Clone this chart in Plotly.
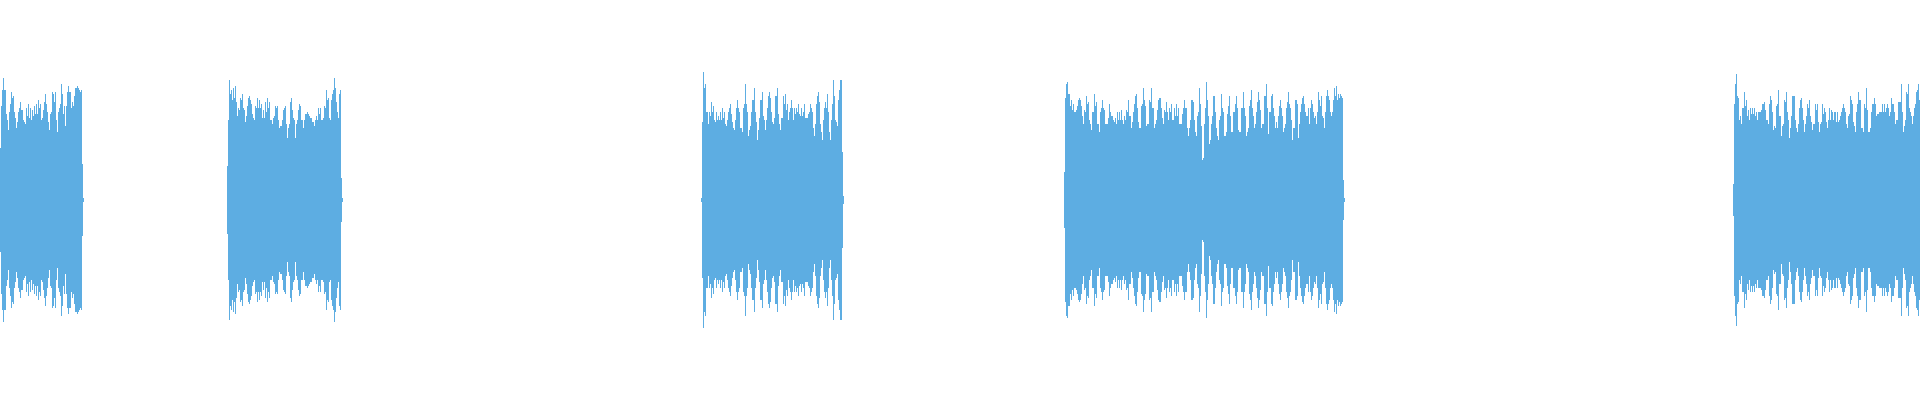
import plotly.graph_objects as go

# Waveform peaks: one value per display bin, in % of full scale (mirrored around 0)

WAVE_COLOR = "#5dade2"
TOTAL_BINS = 1920

# first bin index of each sounding segment
SEGMENT_STARTS = [0, 227, 701, 1064, 1733]

SEG_1 = [26, 47, 55, 61, 55, 55, 43, 40, 35, 44, 48, 54, 51, 52, 44, 41, 36, 39, 44, 46,
         49, 45, 45, 40, 39, 38, 46, 42, 48, 41, 46, 40, 45, 42, 47, 43, 48, 43, 50, 46,
         48, 40, 41, 45, 49, 53, 48, 44, 39, 35, 43, 44, 54, 53, 49, 54, 40, 34, 44, 46,
         48, 58, 53, 43, 47, 37, 47, 54, 57, 54, 54, 46, 49, 47, 52, 56, 56, 57, 56, 55,
         54, 55, 18, 1]

SEG_2 = [17, 40, 60, 53, 55, 50, 56, 51, 57, 49, 42, 46, 45, 51, 50, 53, 46, 45, 39, 42,
         47, 51, 52, 50, 48, 43, 41, 40, 47, 46, 51, 46, 50, 46, 48, 41, 45, 41, 49, 44,
         51, 46, 49, 40, 40, 38, 41, 42, 47, 46, 47, 40, 36, 37, 37, 40, 45, 46, 47, 38,
         31, 36, 38, 49, 51, 45, 41, 40, 31, 38, 40, 45, 48, 47, 40, 40, 36, 40, 43, 43,
         44, 43, 42, 41, 41, 39, 39, 37, 40, 42, 40, 46, 43, 46, 40, 40, 41, 47, 46, 55,
         50, 51, 41, 40, 50, 53, 55, 61, 56, 49, 44, 41, 53, 55, 11, 1]

SEG_3 = [1, 39, 64, 56, 58, 44, 44, 38, 44, 42, 49, 44, 47, 40, 39, 44, 40, 42, 40, 44,
         40, 46, 41, 44, 38, 37, 40, 44, 46, 48, 43, 39, 36, 35, 40, 46, 50, 46, 44, 36,
         36, 34, 46, 48, 58, 48, 44, 32, 35, 37, 44, 50, 50, 56, 44, 39, 30, 35, 41, 50,
         50, 54, 42, 40, 35, 40, 46, 52, 54, 51, 44, 39, 38, 41, 52, 52, 56, 43, 38, 35,
         41, 41, 52, 48, 53, 45, 48, 40, 44, 46, 50, 46, 40, 46, 43, 46, 44, 48, 43, 42,
         46, 42, 44, 48, 41, 41, 41, 43, 44, 48, 46, 44, 36, 32, 38, 48, 52, 54, 49, 38,
         34, 30, 40, 46, 49, 46, 53, 44, 34, 30, 40, 48, 60, 52, 40, 39, 37, 50, 55, 60,
         60, 24, 2]

SEG_4 = [14, 51, 58, 59, 53, 53, 47, 50, 45, 48, 44, 44, 45, 47, 50, 51, 50, 47, 42, 38,
         45, 44, 52, 48, 49, 40, 38, 35, 44, 44, 53, 47, 49, 38, 38, 34, 44, 46, 50, 46,
         45, 38, 38, 38, 41, 48, 44, 42, 42, 40, 39, 41, 38, 44, 40, 44, 40, 45, 40, 38,
         42, 40, 45, 44, 50, 42, 42, 36, 39, 44, 48, 52, 53, 46, 39, 36, 36, 47, 48, 56,
         50, 47, 37, 38, 38, 50, 49, 56, 46, 46, 36, 38, 40, 45, 50, 51, 51, 46, 41, 38,
         45, 44, 49, 44, 40, 46, 44, 48, 40, 40, 46, 42, 48, 42, 46, 38, 38, 38, 43, 46,
         50, 46, 46, 36, 32, 36, 40, 50, 50, 49, 40, 34, 32, 42, 44,
         56, 48, 37, 20, 21, 38, 46, 59, 50, 42, 28, 30, 38, 42, 52, 52, 44, 36, 32, 30,
         40, 42, 53, 46, 44, 32, 32, 34, 43, 47, 52, 42, 34, 34, 44, 44, 48, 52, 46, 35,
         34, 34, 46, 46, 54, 46, 42, 32, 34, 36, 47, 50, 55, 46, 42, 36, 38, 44, 49, 54,
         50, 45, 36, 38, 38, 52, 52, 58, 46, 33, 44, 44, 52, 53, 46, 42, 36, 39, 36, 42,
         47, 50, 46, 42, 34, 36, 38, 46, 49, 54, 48, 46, 40, 30, 36, 36, 50, 50, 48, 31,
         38, 44, 48, 51, 52, 48, 44, 42, 42, 46, 38, 46, 50, 48, 44, 41, 42, 38, 44, 54,
         50, 47, 52, 42, 41, 36, 44, 52, 55, 52, 50, 44, 42, 44, 50, 56, 52, 57, 50, 53,
         51, 53, 52, 51, 10, 1]

SEG_5 = [8, 48, 58, 63, 52, 51, 40, 42, 38, 46, 46, 54, 47, 50, 42, 45, 40, 46, 43, 46,
         43, 46, 42, 44, 40, 44, 44, 44, 45, 48, 48, 49, 45, 40, 40, 38, 48, 52, 50, 44,
         35, 37, 36, 47, 48, 55, 42, 42, 32, 37, 38, 50, 49, 54, 44, 40, 31, 36, 42, 52,
         52, 52, 40, 36, 34, 38, 46, 50, 51, 46, 40, 34, 38, 42, 48, 46, 50, 42, 39, 35,
         38, 38, 48, 45, 48, 39, 34, 38, 39, 48, 43, 46, 44, 39, 36, 40, 46, 40, 45, 44,
         40, 44, 44, 39, 44, 39, 40, 42, 44, 46, 48, 46, 44, 38, 36, 42, 43, 52, 50, 48,
         39, 37, 34, 44, 48, 54, 50, 50, 36, 36, 34, 48, 46, 56, 45, 34, 34, 36, 44, 48,
         48, 51, 48, 42, 43, 43, 44, 44, 44, 48, 44, 48, 44, 46, 48, 46, 42, 44, 51, 48,
         48, 44, 38, 40, 40, 49, 49, 49, 58, 44, 34, 37, 40, 54, 53, 58, 46, 44, 42, 38,
         42, 46, 48, 54, 55, 58, 50]

SEGMENTS = [SEG_1, SEG_2, SEG_3, SEG_4, SEG_5]


# ── Build bins ────────────────────────────────────────────────────────────────

bins, peaks = [], []
for start, seg in zip(SEGMENT_STARTS, SEGMENTS):
    for i, p in enumerate(seg):
        if start + i < TOTAL_BINS:
            bins.append(start + i)
            peaks.append(p)

fig = go.Figure(go.Bar(
    x=bins,
    y=[2 * p for p in peaks],
    base=[-p for p in peaks],
    width=1,
    marker=dict(color=WAVE_COLOR, line=dict(width=0)),
    hoverinfo="skip",
))

fig.update_layout(
    width=1920,
    height=400,
    margin=dict(l=0, r=0, t=0, b=0),
    paper_bgcolor="white",
    plot_bgcolor="white",
    showlegend=False,
    bargap=0,
    xaxis=dict(range=[-0.5, TOTAL_BINS - 0.5], visible=False, fixedrange=True),
    yaxis=dict(range=[-100, 100], visible=False, fixedrange=True),
)

# page body has a default 8px margin; drop it so the plot sits flush at 0,0
fig.write_html(
    "out.html",
    config={"displayModeBar": False, "staticPlot": True},
    post_script="document.body.style.margin='0';",
)
